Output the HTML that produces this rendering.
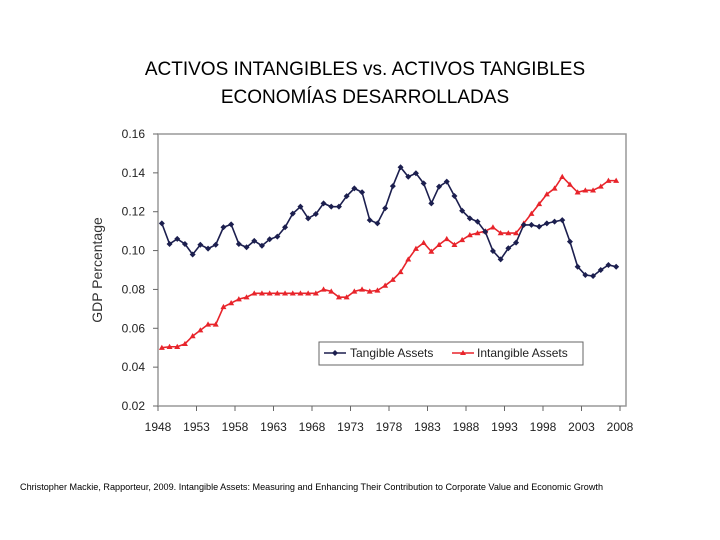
<!DOCTYPE html>
<html><head><meta charset="utf-8"><style>
body{margin:0;background:#fff;width:720px;height:540px;overflow:hidden;font-family:"Liberation Sans",sans-serif;}
.title{position:absolute;left:0;width:730px;text-align:center;font-size:19px;color:#000;}
.cap{position:absolute;left:20px;top:482px;font-size:9.1px;color:#000;white-space:nowrap;}
</style></head><body>
<div class="title" style="top:59px">ACTIVOS INTANGIBLES vs. ACTIVOS TANGIBLES</div>
<div class="title" style="top:87px">ECONOMÍAS DESARROLLADAS</div>
<svg id="chart" width="720" height="540" style="position:absolute;left:0;top:0"></svg>
<div class="cap">Christopher Mackie, Rapporteur, 2009. Intangible Assets: Measuring and Enhancing Their Contribution to Corporate Value and Economic Growth</div>
<script>
const years=[];for(let y=1948;y<=2007;y++)years.push(y);
const tangible=[.114,.1034,.106,.1034,.098,.103,.101,.103,.112,.1135,.1034,.1017,.105,.1025,.1058,.1072,.112,.119,.1226,.1166,.1188,.1243,.1226,.1226,.128,.132,.130,.1157,.114,.1218,.1332,.1429,.138,.1398,.1346,.1243,.1329,.1355,.1281,.1205,.1166,.1149,.1097,.0998,.0955,.1012,.1041,.1132,.1132,.1123,.114,.1149,.1157,.1046,.0917,.0874,.0869,.09,.0926,.0917];
const intangible=[.050,.0505,.0505,.052,.056,.059,.062,.062,.071,.073,.075,.076,.078,.078,.078,.078,.078,.078,.078,.078,.078,.080,.079,.076,.076,.079,.080,.079,.0795,.082,.085,.089,.0955,.101,.104,.0995,.103,.106,.103,.1055,.108,.109,.110,.112,.109,.109,.109,.114,.119,.124,.129,.132,.138,.134,.130,.131,.131,.133,.136,.136];
const yTicks=[0.02,0.04,0.06,0.08,0.10,0.12,0.14,0.16];
const xTicks=[1948,1953,1958,1963,1968,1973,1978,1983,1988,1993,1998,2003,2008];
const L=158,R=626,T=134,B=406;
const xs=y=>L+(y-1948+0.5)*7.7;
const xt=y=>L+(y-1948)*7.7;
const ys=v=>B-(v-0.02)/0.14*(B-T);
const svg=document.getElementById('chart');const NS='http://www.w3.org/2000/svg';
function mk(t,a,p){const e=document.createElementNS(NS,t);for(const k in a)e.setAttribute(k,a[k]);(p||svg).appendChild(e);return e;}
const frame=mk('rect',{x:L,y:T,width:R-L,height:B-T,fill:'none',stroke:'#999','stroke-width':1.5});


yTicks.forEach(v=>{
  mk('line',{x1:L-5,x2:L,y1:ys(v),y2:ys(v),stroke:'#666'});
  const t=mk('text',{x:L-13,y:ys(v)+4,'text-anchor':'end','font-size':12,fill:'#222'});t.textContent=v.toFixed(2);
  
  
});
xTicks.forEach(v=>{
  mk('line',{x1:xt(v),x2:xt(v),y1:B,y2:B+5,stroke:'#666'});
  const t=mk('text',{x:xt(v),y:B+25,'text-anchor':'middle','font-size':12,fill:'#222'});t.textContent=v;
  
  
});
const yt=mk('text',{x:0,y:0,transform:'translate(102,270) rotate(-90)','text-anchor':'middle','font-size':14,fill:'#333'});yt.textContent='GDP Percentage';


function series(vals,col,name,marker){
  const g=mk('g',{});
  
  
  mk('polyline',{points:vals.map((v,i)=>xs(years[i])+','+ys(v)).join(' '),fill:'none',stroke:col,'stroke-width':1.6},g);
  vals.forEach((v,i)=>{const x=xs(years[i]),y=ys(v);
    const m=marker==='d'?mk('polygon',{points:`${x},${y-3} ${x+3},${y} ${x},${y+3} ${x-3},${y}`,fill:col},g):mk('polygon',{points:`${x},${y-3} ${x+3},${y+2.2} ${x-3},${y+2.2}`,fill:col},g);
    
    
  });
}
series(intangible,'#e8242b','intangible-series','t');
series(tangible,'#1c1f4f','tangible-series','d');
const lg=mk('g',{});


mk('rect',{x:319,y:342,width:264,height:23,fill:'#fff',stroke:'#666'},lg);
mk('line',{x1:324,x2:346,y1:353,y2:353,stroke:'#1c1f4f','stroke-width':1.6},lg);
mk('polygon',{points:'335,350 338,353 335,356 332,353',fill:'#1c1f4f'},lg);
let t1=mk('text',{x:350,y:357,'font-size':12,fill:'#222'},lg);t1.textContent='Tangible Assets';


mk('line',{x1:452,x2:474,y1:353,y2:353,stroke:'#e8242b','stroke-width':1.6},lg);
mk('polygon',{points:'463,350 466,355 460,355',fill:'#e8242b'},lg);
let t2=mk('text',{x:477,y:357,'font-size':12,fill:'#222'},lg);t2.textContent='Intangible Assets';


</script>
</body></html>
